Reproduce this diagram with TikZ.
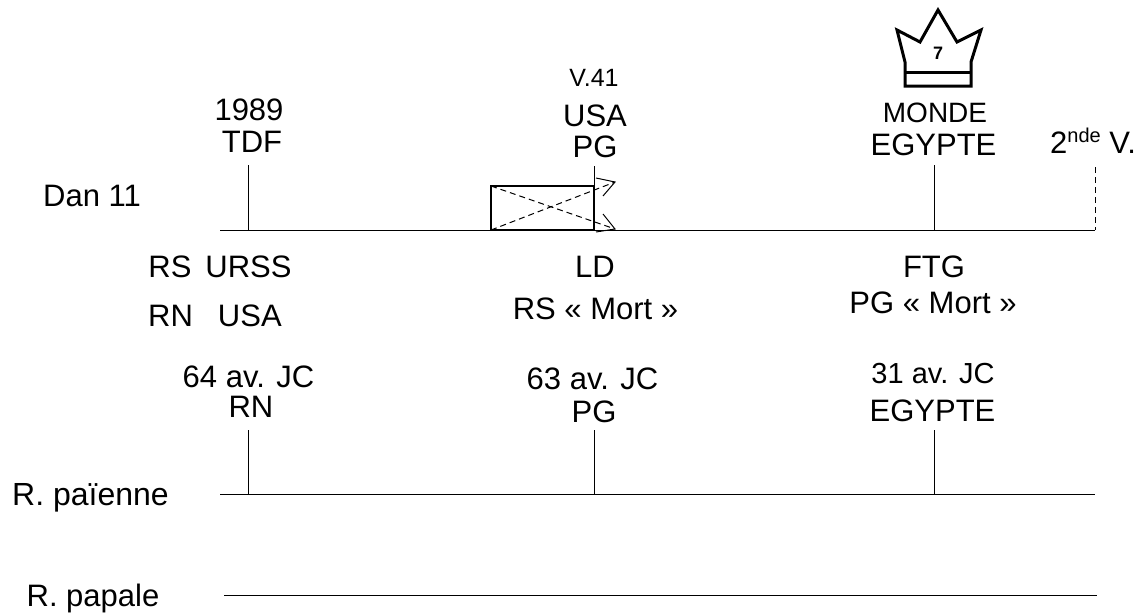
\documentclass[tikz,border=0pt]{standalone}
\usepackage{fontspec}
\setmainfont{Liberation Sans}
\tikzset{
  lbl/.style={anchor=base,inner sep=0pt,font=\fontsize{31}{31}\selectfont},
  thin line/.style={line width=1pt,black},
  box line/.style={line width=1.4pt,black},
  dash line/.style={line width=1pt,black,dash pattern=on 6pt off 4pt},
  crown/.style={line width=3pt,black,line join=miter}
}
\begin{document}
\begin{tikzpicture}[x=1pt,y=-1pt]
\useasboundingbox (0,0) rectangle (1142,613);
% top axis
\coordinate (a1) at (220,230);
\coordinate (a2) at (1095,230);
\coordinate (t1) at (248,165);\coordinate (b1) at (248,230);
\coordinate (t2) at (594,166);\coordinate (b2) at (594,230);
\coordinate (t3) at (934,165);\coordinate (b3) at (934,230);
\coordinate (t4) at (1095,167);
\draw[thin line] (a1) -- (a2);
\draw[thin line] (t1) -- (b1);
\draw[thin line] (t2) -- (b2);
\draw[thin line] (t3) -- (b3);
\draw[dash line] (t4) -- (a2);
% box and crossing arrows
\coordinate (bl) at (491,230);\coordinate (tl) at (491,186);\coordinate (tr) at (594,186);
\coordinate (u) at (615,182);\coordinate (d) at (615,229);
\draw[box line] (bl) -- (tl) -- (tr) -- (b2) -- cycle;
\draw[dash line] (bl) -- (u);
\draw[dash line] (tl) -- (d);
\draw[thin line] (596,178) -- (u) -- (603,196);
\draw[thin line] (603,214) -- (d) -- (596,232);
% lower axes
\coordinate (c1) at (220,494);\coordinate (c2) at (1095,494);
\coordinate (e1) at (248,430);\coordinate (f1) at (248,494);
\coordinate (e2) at (594,430);\coordinate (f2) at (594,494);
\coordinate (e3) at (934,430);\coordinate (f3) at (934,494);
\draw[thin line] (c1) -- (c2);
\draw[thin line] (e1) -- (f1);
\draw[thin line] (e2) -- (f2);
\draw[thin line] (e3) -- (f3);
\coordinate (g1) at (224,595);\coordinate (g2) at (1097,595);
\draw[thin line] (g1) -- (g2);
% crown
\draw[crown] (905,62) -- (897,30) -- (920,42) -- (938,10) -- (957,42) -- (981,30) -- (971,62) -- (971,86) -- (905,86) -- cycle;
\draw[crown] (905,72) -- (971,72);
\node[anchor=base,inner sep=0pt,font=\fontsize{18}{18}\selectfont\bfseries] (seven) at (938,59) {7};
% labels
\node[lbl] (n1989) at (249,120) {1989};
\node[lbl] (tdf) at (252,152) {TDF};
\node[lbl,font=\fontsize{25}{25}\selectfont] (v41) at (594,86) {V.41};
\node[lbl] (usa) at (595,126) {USA};
\node[lbl] (pg) at (595,157) {PG};
\node[lbl,font=\fontsize{28}{28}\selectfont] (monde) at (935,122) {MONDE};
\node[lbl] (egypte) at (933.5,155) {EGYPTE};
\node[lbl] (nde) at (1093,153) {2\raisebox{11pt}{\fontsize{20}{20}\selectfont nde} V.};
\node[lbl] (dan) at (92,206) {Dan 11};
\node[lbl] (rs) at (220,277) {RS\hspace{14pt}URSS};
\node[lbl] (rn) at (215,326) {RN\hspace{25pt}USA};
\node[lbl] (ld) at (595,277) {LD};
\node[lbl] (rsm) at (595.5,319) {RS « Mort »};
\node[lbl] (ftg) at (934,277) {FTG};
\node[lbl] (pgm) at (933,313) {PG « Mort »};
\node[lbl] (d64) at (248.5,387) {64 av. JC};
\node[lbl] (rn2) at (251,417) {RN};
\node[lbl] (d63) at (592.5,389) {63 av. JC};
\node[lbl] (pg2) at (594,422) {PG};
\node[lbl,font=\fontsize{29}{29}\selectfont] (d31) at (933,383) {31 av. JC};
\node[lbl] (eg2) at (932.5,421) {EGYPTE};
\node[lbl,font=\fontsize{32}{32}\selectfont] (pai) at (90.5,505) {R. païenne};
\node[lbl] (pap) at (93,606) {R. papale};
\end{tikzpicture}
\end{document}
